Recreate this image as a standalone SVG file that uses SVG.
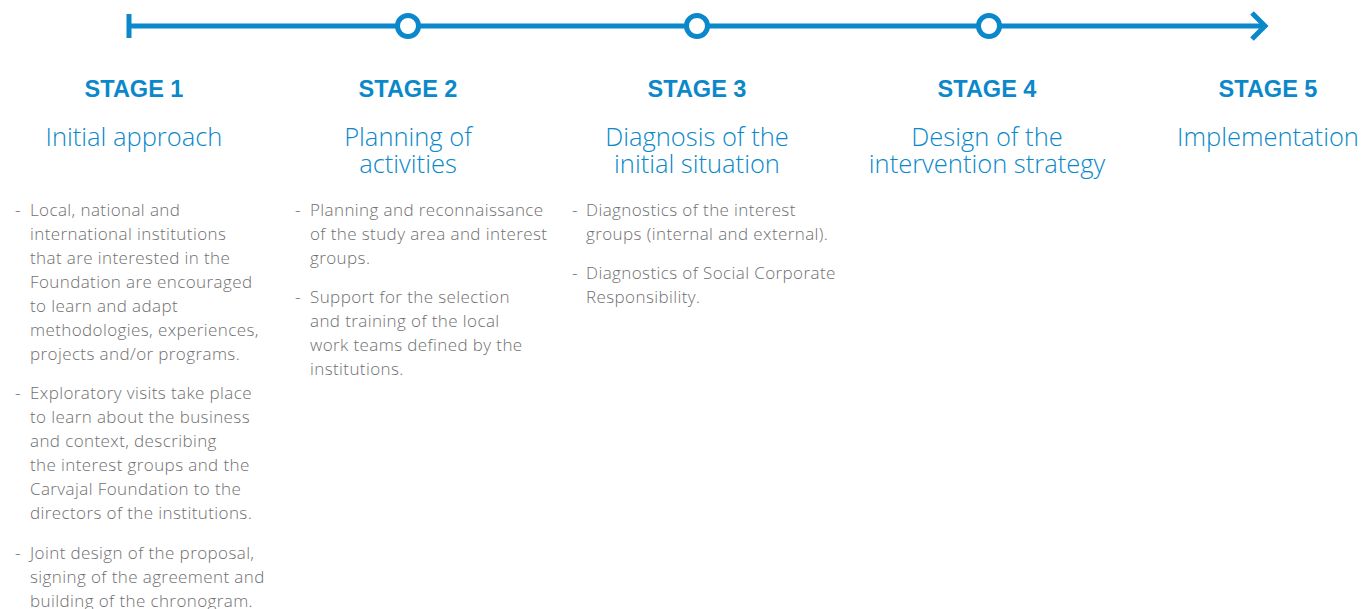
<svg xmlns="http://www.w3.org/2000/svg" width="1362" height="609" viewBox="0 0 1362 609">
  <style>
    .line { stroke: #0a88ca; stroke-width: 5; fill: none; }
    .dot { stroke: #0a88ca; stroke-width: 5; fill: #ffffff; }
    .stage { font-family: "Liberation Sans", Arial, sans-serif; font-weight: bold; font-size: 23.5px; fill: #0a88ca; text-anchor: middle; }
    .title { font-family: "Open Sans", "Liberation Sans", sans-serif; font-weight: 300; font-size: 25.5px; fill: #0a88ca; text-anchor: middle; }
    .body { font-family: "Open Sans", "Liberation Sans", sans-serif; font-weight: 300; font-size: 17px; letter-spacing: 0.4px; fill: #6f6f71; }
  </style>
  <rect width="1362" height="609" fill="#ffffff"/>

  <!-- timeline -->
  <g id="connectors">
    <line class="line" x1="129" y1="26" x2="1265" y2="26"/>
    <line class="line" x1="129" y1="14" x2="129" y2="38"/>
    <polyline class="line" points="1252,13 1265,26 1252,39"/>
  </g>
  <circle class="dot" cx="408" cy="26" r="10.5"/>
  <circle class="dot" cx="697" cy="26" r="10.5"/>
  <circle class="dot" cx="989" cy="26" r="10.5"/>

  <g id="stage1">
    <text class="stage" x="134" y="97">STAGE 1</text>
    <text class="title" x="134" y="146">Initial approach</text>
    <text class="body">
      <tspan x="15" y="216">-</tspan><tspan x="30" y="216">Local, national and</tspan>
      <tspan x="30" y="240">international institutions</tspan>
      <tspan x="30" y="264">that are interested in the</tspan>
      <tspan x="30" y="288">Foundation are encouraged</tspan>
      <tspan x="30" y="312">to learn and adapt</tspan>
      <tspan x="30" y="336">methodologies, experiences,</tspan>
      <tspan x="30" y="360">projects and/or programs.</tspan>
      <tspan x="15" y="399">-</tspan><tspan x="30" y="399">Exploratory visits take place</tspan>
      <tspan x="30" y="423">to learn about the business</tspan>
      <tspan x="30" y="447">and context, describing</tspan>
      <tspan x="30" y="471">the interest groups and the</tspan>
      <tspan x="30" y="495">Carvajal Foundation to the</tspan>
      <tspan x="30" y="519">directors of the institutions.</tspan>
      <tspan x="15" y="559">-</tspan><tspan x="30" y="559">Joint design of the proposal,</tspan>
      <tspan x="30" y="583">signing of the agreement and</tspan>
      <tspan x="30" y="607">building of the chronogram.</tspan>
    </text>
  </g>

  <g id="stage2">
    <text class="stage" x="408" y="97">STAGE 2</text>
    <text class="title" x="408" y="146">Planning of</text>
    <text class="title" x="408" y="173">activities</text>
    <text class="body">
      <tspan x="295" y="216">-</tspan><tspan x="310" y="216">Planning and reconnaissance</tspan>
      <tspan x="310" y="240">of the study area and  interest</tspan>
      <tspan x="310" y="264">groups.</tspan>
      <tspan x="295" y="303">-</tspan><tspan x="310" y="303">Support for the selection</tspan>
      <tspan x="310" y="327">and training of the local</tspan>
      <tspan x="310" y="351">work teams defined by the</tspan>
      <tspan x="310" y="375">institutions.</tspan>
    </text>
  </g>

  <g id="stage3">
    <text class="stage" x="697" y="97">STAGE 3</text>
    <text class="title" x="697" y="146">Diagnosis of the</text>
    <text class="title" x="697" y="173">initial situation</text>
    <text class="body">
      <tspan x="572" y="216">-</tspan><tspan x="586" y="216">Diagnostics of the interest</tspan>
      <tspan x="586" y="240">groups (internal and external).</tspan>
      <tspan x="572" y="279">-</tspan><tspan x="586" y="279">Diagnostics of Social Corporate</tspan>
      <tspan x="586" y="303">Responsibility.</tspan>
    </text>
  </g>

  <g id="stage4">
    <text class="stage" x="987" y="97">STAGE 4</text>
    <text class="title" x="987" y="146">Design of the</text>
    <text class="title" x="987" y="173">intervention strategy</text>
  </g>

  <g id="stage5">
    <text class="stage" x="1268" y="97">STAGE 5</text>
    <text class="title" x="1268" y="146">Implementation</text>
  </g>
</svg>
